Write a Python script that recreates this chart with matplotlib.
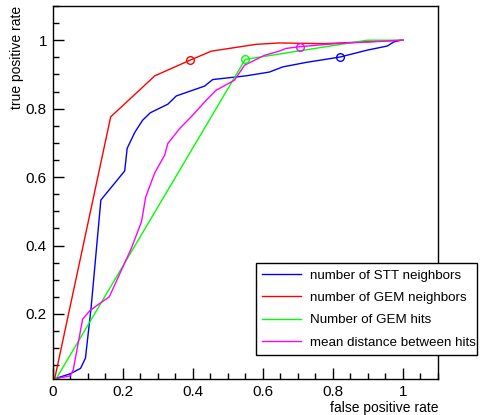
import matplotlib
matplotlib.use("Agg")
import matplotlib.pyplot as plt
from matplotlib.ticker import MultipleLocator, FormatStrFormatter

plt.rcParams['font.family'] = ['Liberation Sans', 'DejaVu Sans']

# ROC curves
stt_x = [0.01, 0.05, 0.080, 0.094, 0.110, 0.138, 0.206, 0.213, 0.235, 0.257, 0.279,
         0.329, 0.353, 0.434, 0.457, 0.553, 0.619, 0.657, 0.723, 0.821, 0.898,
         0.955, 0.974, 0.993, 1.0]
stt_y = [0.012, 0.025, 0.041, 0.071, 0.217, 0.533, 0.618, 0.684, 0.731, 0.766, 0.788,
         0.813, 0.837, 0.866, 0.885, 0.896, 0.907, 0.922, 0.935, 0.951, 0.971,
         0.983, 0.995, 1.0, 1.0]

gem_nb_x = [0.005, 0.166, 0.292, 0.391, 0.453, 0.581, 0.647, 0.775, 1.0]
gem_nb_y = [0.005, 0.776, 0.896, 0.941, 0.968, 0.988, 0.992, 0.990, 1.0]

gem_hits_x = [0.01, 0.550, 0.898, 1.0]
gem_hits_y = [0.01, 0.944, 1.0, 1.0]

dist_x = [0.014, 0.05, 0.059, 0.086, 0.107, 0.135, 0.162, 0.225, 0.254, 0.266, 0.292,
          0.320, 0.329, 0.363, 0.400, 0.439, 0.467, 0.519, 0.548, 0.605, 0.647,
          0.666, 0.705, 0.808, 1.0]
dist_y = [0.012, 0.019, 0.036, 0.185, 0.210, 0.231, 0.250, 0.392, 0.470, 0.542, 0.613,
          0.664, 0.698, 0.742, 0.781, 0.825, 0.854, 0.883, 0.927, 0.956, 0.968,
          0.976, 0.981, 0.990, 1.0]

# working points (open circles)
mark_x = [0.821, 0.391, 0.550, 0.705]
mark_y = [0.951, 0.941, 0.944, 0.981]

labels = ["number of STT neighbors", "number of GEM neighbors",
          "Number of GEM hits", "mean distance between hits"]
colors = ["#0000ff", "#ff0000", "#00ff00", "#ff00ff"]

fig = plt.figure(figsize=(4.83, 4.15), dpi=100)
ax = fig.add_axes([52.5 / 483, 36 / 415, (438 - 52.5) / 483, (379 - 6) / 415])

curves = [(stt_x, stt_y), (gem_nb_x, gem_nb_y), (gem_hits_x, gem_hits_y), (dist_x, dist_y)]
handles = []
for (xs, ys), lab, c in zip(curves, labels, colors):
    h, = ax.plot(xs, ys, color=c, lw=1, label=lab)
    handles.append(h)
for mx, my, c in zip(mark_x, mark_y, colors):
    ax.plot(mx, my, 'o', mfc='none', mec=c, ms=5.5, mew=1)

ax.set_xlim(0, 1.1)
ax.set_ylim(0.01, 1.1)
ax.xaxis.set_major_locator(MultipleLocator(0.2))
ax.xaxis.set_minor_locator(MultipleLocator(0.05))
ax.yaxis.set_major_locator(MultipleLocator(0.2))
ax.yaxis.set_minor_locator(MultipleLocator(0.05))
ax.xaxis.set_major_formatter(FormatStrFormatter('%g'))
ax.yaxis.set_major_formatter(FormatStrFormatter('%g'))
ax.tick_params(which='both', direction='in', top=False, right=False, labelsize=11)
ax.tick_params(which='major', length=8, width=1, pad=4)
ax.tick_params(which='minor', length=4.5, width=1)
for s in ax.spines.values():
    s.set_linewidth(1)

ax.set_xlabel("false positive rate", fontsize=10, loc='right')
ax.xaxis.set_label_coords(1.0, -0.058)
ax.set_ylabel("true positive rate", fontsize=10, loc='top')
ax.yaxis.set_label_coords(-0.074, 1.0)

leg = ax.legend(handles=handles, loc='upper left', fontsize=9.6,
                bbox_to_anchor=(255.7 / 483, (415 - 262.7) / 415, 221 / 483, 0),
                bbox_transform=fig.transFigure, mode='expand', borderaxespad=0,
                fancybox=False, frameon=True, handlelength=2.9, handletextpad=0.65,
                labelspacing=0.75, borderpad=0.5)
leg.get_frame().set_edgecolor('black')
leg.get_frame().set_linewidth(1)
leg.get_frame().set_alpha(1)

fig.savefig("out.png", dpi=100)
